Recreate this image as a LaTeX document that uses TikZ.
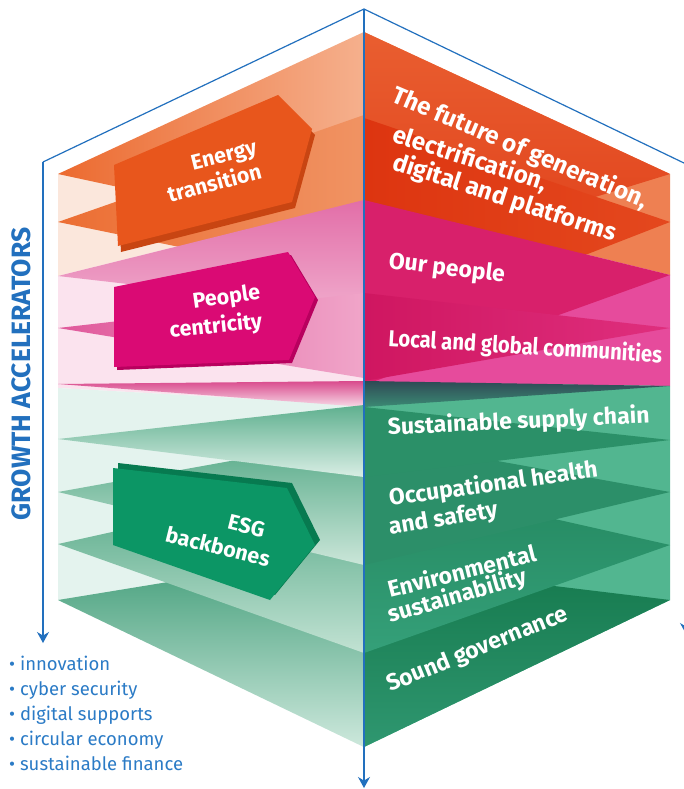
\documentclass[tikz,border=0pt]{standalone}
\usepackage{fontspec}
\usepackage{graphicx}
\setmainfont{Fira Sans}
\usetikzlibrary{arrows.meta}
\definecolor{lineblue}{HTML}{2270BE}
\definecolor{txtblue}{HTML}{2B7BC6}
\definecolor{peach}{HTML}{FBE7DC}
\definecolor{lpink}{HTML}{FBE3EE}
\definecolor{mint}{HTML}{E4F3EE}
\definecolor{obg}{HTML}{EE8052}
\definecolor{pbg}{HTML}{E64B9C}
\definecolor{gbg}{HTML}{52B690}
\definecolor{earrow}{HTML}{E8561C}
\definecolor{eshade}{HTML}{C84512}
\definecolor{parrow}{HTML}{DA0A74}
\definecolor{pshade}{HTML}{B8005E}
\definecolor{garrow}{HTML}{0C9665}
\definecolor{gshade}{HTML}{077A50}
\definecolor{rp3}{HTML}{D8206B}
\definecolor{rp7}{HTML}{2C8F69}
\definecolor{rp6}{HTML}{2B9068}
\tikzset{
  bluestroke/.style={draw=lineblue, line width=1.2pt},
  bluetip/.style={bluestroke, -{Stealth[length=11pt,width=12pt]}},
  facetxt/.style={text=white, font=\fontsize{23}{26}\bfseries\selectfont, inner sep=0pt},
  bigface/.style={text=white, font=\fontsize{24.3}{27}\bfseries\selectfont, inner sep=0pt},
  arrowtxt/.style={text=white, font=\fontsize{21.5}{24}\bfseries\selectfont, inner sep=0pt, anchor=base east},
  listtxt/.style={text=txtblue, font=\fontsize{18.5}{22}\selectfont, inner sep=0pt, anchor=base west},
}
\begin{document}
\begin{tikzpicture}[x=1pt,y=-1pt]
\useasboundingbox (0,0) rectangle (684,789);
\fill[white] (0,0) rectangle (684,789);

% ---------- face backgrounds ----------
\fill[peach] (58,174) -- (364,32) -- (364,200) -- (58,276) -- cycle;
\fill[lpink] (58,276) -- (364,200) -- (364,405) -- (58,388) -- cycle;
\fill[mint]  (58,388) -- (364,405) -- (364,747) -- (58,600) -- cycle;
\fill[obg] (364,32) -- (670,174) -- (670,275) -- (364,200) -- cycle;
\fill[pbg] (364,200) -- (670,275) -- (670,386) -- (364,382) -- cycle;
\fill[gbg] (364,382) -- (670,386) -- (670,600) -- (364,747) -- cycle;

% ---------- left face plates ----------
\shade[left color={rgb,255:red,236;green,106;blue,47}, right color={rgb,255:red,245;green,176;blue,141}] (58,174) -- (364,32) -- (364,240) -- cycle;
\shade[left color={rgb,255:red,236;green,110;blue,51}, right color={rgb,255:red,240;green,147;blue,99}] (58,222) -- (364,115) -- (364,285) -- cycle;
\shade[top color={rgb,255:red,226;green,110;blue,168}, bottom color={rgb,255:red,240;green,170;blue,204}] (58,276) -- (364,200) -- (364,311) -- cycle;
\shade[left color={rgb,255:red,224;green,89;blue,155}, right color={rgb,255:red,240;green,165;blue,201}] (58,328) -- (364,293) -- (364,378) -- cycle;
\shade[top color={rgb,255:red,217;green,74;blue,141}, bottom color={rgb,255:red,248;green,219;blue,232}] (58,384) -- (364,381) -- (364,407) -- cycle;
\shade[top color={rgb,255:red,63;green,156;blue,119}, bottom color={rgb,255:red,205;green,232;blue,220}] (58,600) -- (364,550) -- (364,747) -- cycle;
\shade[top color={rgb,255:red,75;green,164;blue,128}, bottom color={rgb,255:red,194;green,226;blue,211}] (58,544) -- (364,476) -- (364,653) -- cycle;
\shade[top color={rgb,255:red,82;green,168;blue,133}, bottom color={rgb,255:red,203;green,230;blue,217}] (58,492) -- (364,437) -- (364,565) -- cycle;
\shade[top color={rgb,255:red,95;green,176;blue,143}, bottom color={rgb,255:red,217;green,238;blue,229}] (58,439) -- (364,405) -- (364,477) -- cycle;

% ---------- right face plates ----------
\shade[top color={rgb,255:red,233;green,94;blue,48}, bottom color={rgb,255:red,224;green,64;blue,26}] (670,174) -- (364,32) -- (364,268) -- cycle;
\shade[left color={rgb,255:red,221;green,53;blue,16}, right color={rgb,255:red,228;green,72;blue,30}] (670,222) -- (364,118) -- (364,341) -- cycle;
\fill[rp3] (670,275) -- (364,200) -- (364,385) -- cycle;
\shade[left color={rgb,255:red,207;green,22;blue,96}, right color={rgb,255:red,223;green,47;blue,126}] (670,328) -- (364,293) -- (364,381) -- cycle;
\shade[top color={rgb,255:red,47;green,74;blue,85}, bottom color={rgb,255:red,59;green,138;blue,116}] (670,386) -- (364,381) -- (364,407) -- cycle;
\shade[top color={rgb,255:red,21;green,121;blue,77}, bottom color={rgb,255:red,47;green,151;blue,112}] (670,600) -- (364,563) -- (364,747) -- cycle;
\shade[top color={rgb,255:red,35;green,135;blue,95}, bottom color={rgb,255:red,53;green,160;blue,121}] (670,545) -- (364,476) -- (364,653) -- cycle;
\fill[rp7] (670,492) -- (364,437) -- (364,565) -- cycle;
\fill[rp6] (670,440) -- (364,407) -- (364,477) -- cycle;

% ---------- left arrows ----------
\begin{scope}[shift={(3,6)}]
\fill[eshade] (114,165) -- (278,95) -- (312,129) -- (292,202) -- (118,246) -- cycle;
\end{scope}
\fill[earrow] (114,165) -- (278,95) -- (312,129) -- (292,202) -- (118,246) -- cycle;
\node[arrowtxt, rotate=14] (en1) at (258,154) {Energy};
\node[arrowtxt, rotate=15] (en2) at (263,178) {transition};

\begin{scope}[shift={(3,3)}]
\fill[pshade] (114,287) -- (288,252) -- (315,297) -- (289,360) -- (114,367) -- cycle;
\end{scope}
\fill[parrow] (114,287) -- (288,252) -- (315,297) -- (289,360) -- (114,367) -- cycle;
\node[arrowtxt, rotate=8] (pe1) at (261,299) {People};
\node[arrowtxt, rotate=6] (pe2) at (263,328) {centricity};

\begin{scope}[shift={(5,-5)}]
\fill[gshade] (113,468) -- (287,488) -- (315,545) -- (270,600) -- (113,545) -- cycle;
\end{scope}
\fill[garrow] (113,468) -- (287,488) -- (315,545) -- (270,600) -- (113,545) -- cycle;
\node[arrowtxt, rotate=-14] (es1) at (263,538) {ESG};
\node[arrowtxt, rotate=-14] (es2) at (268,567) {backbones};

% ---------- right face texts ----------
\node[bigface, rotate=-23, anchor=base west] (t1) at (390,101) {The future of generation,};
\node[bigface, rotate=-18, anchor=base west] (t2) at (391,141) {electrification,};
\node[bigface, rotate=-18, anchor=base west] (t3) at (391,169) {digital and platforms};
\node[facetxt, rotate=-7, anchor=base west] (t4) at (388,268) {Our people};
\node[facetxt, rotate=-3.5, anchor=base west] (t5) at (388,346) {\scalebox{0.88}[1]{Local and global communities}};
\node[facetxt, rotate=2.7, anchor=base west] (t6) at (388,435) {Sustainable supply chain};
\node[facetxt, rotate=8, anchor=base west] (t7) at (390,506) {Occupational health};
\node[facetxt, rotate=9.5, anchor=base west] (t8) at (390,535) {and safety};
\node[facetxt, rotate=14, anchor=base west] (t9) at (390,598) {Environmental};
\node[facetxt, rotate=16, anchor=base west] (t10) at (390,623) {sustainability};
\node[facetxt, rotate=22, anchor=base west] (t11) at (390,692) {Sound governance};

% ---------- blue outline ----------
\coordinate (apex) at (364,9);
\coordinate (lc) at (43,162);
\coordinate (la) at (43,643);
\coordinate (rc) at (686,164);
\coordinate (ra) at (686,634);
\coordinate (ca) at (364,788);
\draw[bluestroke] (lc) -- (apex) -- (rc);
\draw[bluetip] (lc) -- (la);
\draw[bluetip] (rc) -- (ra);
\draw[bluetip] (apex) -- (ca);

% ---------- left labels ----------
\node[rotate=90, text=lineblue, font=\fontsize{26.5}{29}\bfseries\selectfont, inner sep=0pt] (ga) at (21,374) {GROWTH ACCELERATORS};
\node[listtxt] (b1) at (9,670) {• innovation};
\node[listtxt] (b2) at (9,695) {• cyber security};
\node[listtxt] (b3) at (9,720) {• digital supports};
\node[listtxt] (b4) at (9,745) {• circular economy};
\node[listtxt] (b5) at (9,770) {• sustainable finance};
\end{tikzpicture}
\end{document}
